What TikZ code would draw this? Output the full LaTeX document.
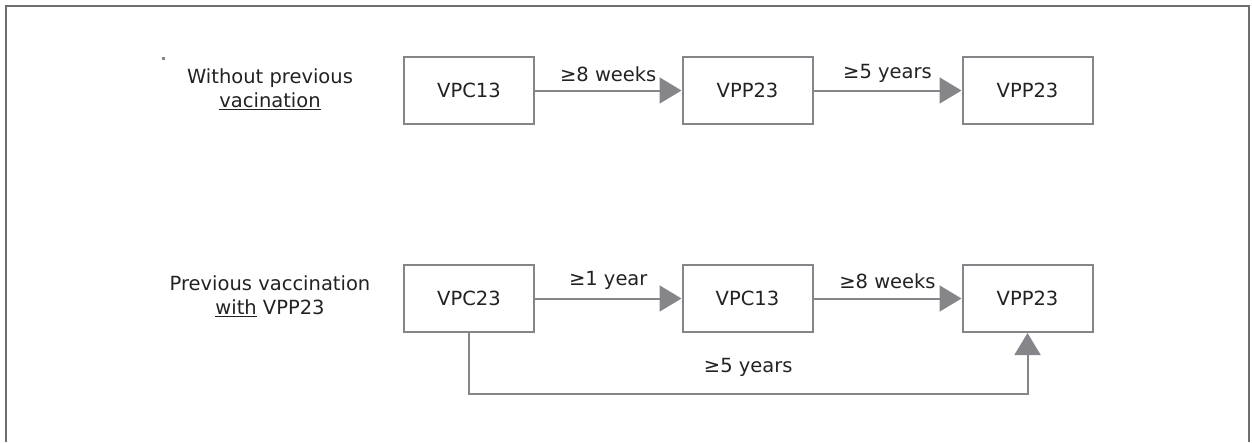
\documentclass[tikz,border=0pt]{standalone}
\usepackage{fontspec}
\setmainfont{DejaVu Sans}
\usetikzlibrary{positioning}
\usetikzlibrary{arrows.meta}
\usepackage{xcolor}
\definecolor{boxgray}{HTML}{86868A}
\definecolor{framegray}{HTML}{6E6E6E}
\definecolor{txt}{HTML}{222222}

\begin{document}
\begin{tikzpicture}[x=1pt,y=-1pt,
    vacbox/.style={draw=boxgray, line width=2pt, fill=white, minimum width=130pt, minimum height=67pt, text=txt},
    interval/.style={draw=boxgray, line width=2pt, -{Triangle[length=22pt,width=26pt]}, boxgray},
    lbl/.style={text=txt},
    every node/.style={font=\fontsize{19.5}{24.5}\selectfont}]
            \useasboundingbox (0,0) rectangle (1252,442);
            % outer frame, open at the bottom
            \draw[framegray, line width=2.2pt] (6,442) -- (6,6) -- (1249,6) -- (1249,442);
            \fill[boxgray] (162,57) rectangle (165,60);

            % Without previous vaccination
            \node[lbl, align=center] (nopre) at (270,89) {Without previous\\\underline{vacination}};
            \node[vacbox] (pc13a) at (469,90.5) {VPC13};
            \node[vacbox] (pp23a) at (747.5,90.5) {VPP23};
            \node[vacbox] (pp23b) at (1027.5,90.5) {VPP23};

            % Previous vaccination with VPP23
            \node[lbl, align=center] (withpre) at (270,296) {Previous vaccination\\\underline{with} VPP23};
            \node[vacbox] (pc23) at (469,298.5) {VPC23};
            \node[vacbox] (pc13b) at (747.5,298.5) {VPC13};
            \node[vacbox] (pp23c) at (1027.5,298.5) {VPP23};

            \draw[interval] (pc13a) -- node[lbl, above=4pt] {≥8 weeks} (pp23a);
            \draw[interval] (pp23a) -- node[lbl, above=4pt] {≥5 years} (pp23b);
            \draw[interval] (pc23) -- node[lbl, above=5pt] {≥1 year} (pc13b);
            \draw[interval] (pc13b) -- node[lbl, above=5pt] {≥8 weeks} (pp23c);
            \draw[interval] (pc23.south) -- ++(0,61) -| node[lbl, pos=0.25, above=13pt] {≥5 years} (pp23c.south);
        \end{tikzpicture}
\end{document}
